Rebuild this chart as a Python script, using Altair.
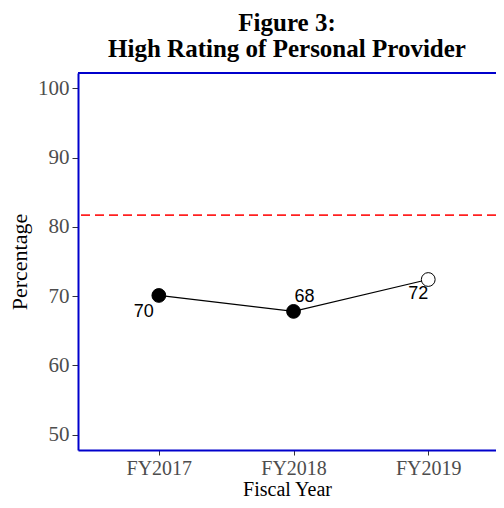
import altair as alt
import pandas as pd

years = ["FY2017", "FY2018", "FY2019"]
xpos = [1, 2, 3]
values = [70.1, 67.8, 72.4]
labels = ["70", "68", "72"]
filled = ["yes", "yes", "no"]
benchmark = [81.7]

df = pd.DataFrame({"x": xpos, "year": years, "value": values, "label": labels, "filled": filled})
bench = pd.DataFrame({"b": benchmark})

W, H = 418, 377
serif = "Liberation Serif"

xscale = alt.Scale(domain=[0.4, 3.503], nice=False, zero=False)
yscale = alt.Scale(domain=[47.8, 102.2], nice=False, zero=False)

xenc = alt.X("x:Q", scale=xscale,
             axis=alt.Axis(values=xpos, labelExpr="['','FY2017','FY2018','FY2019'][datum.value]",
                           title="Fiscal Year", grid=False, domainColor="#0000cc", domainWidth=2,
                           tickColor="#333333", tickSize=5, labelFont=serif, labelFontSize=20,
                           labelColor="#4d4d4d", labelPadding=3, titleFont=serif, titleFontSize=20,
                           titleFontWeight="normal", titleColor="black", titlePadding=1))
yenc = alt.Y("value:Q", scale=yscale,
             axis=alt.Axis(values=[50, 60, 70, 80, 90, 100], title="Percentage", grid=False,
                           domainColor="#0000cc", domainWidth=2, tickColor="#333333", tickSize=6,
                           labelFont=serif, labelFontSize=21, labelColor="#4d4d4d", labelPadding=3,
                           titleFont=serif, titleFontSize=22, titleFontWeight="normal",
                           titleColor="black", titlePadding=6))

base = alt.Chart(df)

line = base.mark_line(color="black", strokeWidth=1.2).encode(x=xenc, y=yenc)

points = base.mark_point(size=190, strokeWidth=1, opacity=1).encode(
    x="x:Q", y="value:Q",
    fill=alt.Fill("filled:N", scale=alt.Scale(domain=["yes", "no"], range=["black", "white"]), legend=None),
    color=alt.value("black"),
)

def lab(i, dx, dy, align):
    return base.transform_filter(alt.datum.x == xpos[i]).mark_text(
        font="Liberation Sans", fontSize=18, color="black", dx=dx, dy=dy, align=align, baseline="middle"
    ).encode(x="x:Q", y="value:Q", text="label:N")

t1 = lab(0, -5, 17, "right")
t2 = lab(1, 1, -14, "left")
t3 = lab(2, 0, 14, "right")

rule = alt.Chart(bench).mark_rule(color="#ff2020", strokeWidth=1.8, strokeDash=[9, 5]).encode(y="b:Q")

top = alt.Chart(bench).mark_rule(color="#0000cc", strokeWidth=2).encode(
    x=alt.value(0), x2=alt.value(W), y=alt.value(0))

chart = alt.layer(rule, line, points, t1, t2, t3, top).properties(
    width=W, height=H,
    title=alt.TitleParams(["Figure 3:", "High Rating of Personal Provider"], font=serif, fontSize=25,
                          fontWeight="bold", color="black", anchor="middle", offset=10, lineHeight=26),
    padding={"left": 70, "top": 65, "right": 0, "bottom": 50},
    autosize=alt.AutoSizeParams(type="none"),
).configure_view(stroke="transparent", strokeWidth=0).configure(background="white")

chart.save("out.html", embed_options={"renderer": "svg", "actions": False})
